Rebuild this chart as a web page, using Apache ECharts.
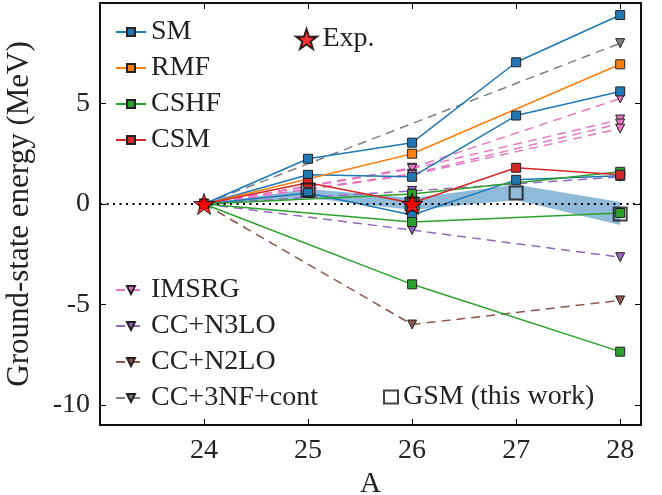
<!DOCTYPE html>
<html><head><meta charset="utf-8">
<script src="https://cdn.jsdelivr.net/npm/echarts@6/dist/echarts.min.js"></script>
<style>html,body{margin:0;padding:0;background:#fff}#c{width:662px;height:495px}</style>
</head><body><div id="c"></div>
<script>
// ---- data ----
const A = [24, 25, 26, 27, 28];
const xTicks = [24, 25, 26, 27, 28];
const yTicks = [-10, -5, 0, 5];
const sm1 = [0, 2.25, 3.05, 7.05, 9.4];
const sm2 = [0, 1.45, 1.35, 4.4, 5.6];
const sm3 = [0, 0.55, -0.55, 1.2, 1.4];
const rmf = [0, null, 2.5, null, 6.95];
const cshf1 = [0, null, 0.5, null, 1.6];
const cshf2 = [0, null, -0.9, null, -0.45];
const cshf3 = [0, null, -4.0, null, -7.35];
const csm = [0, 1.05, 0.05, 1.8, 1.45];
const imsrg1 = [0, null, 1.8, null, 5.25];
const imsrg2 = [0, null, 1.75, null, 4.2];
const imsrg3 = [0, null, 1.5, null, 4.0];
const imsrg4 = [0, null, 1.45, null, 3.75];
const ccn3lo1 = [0, null, 0.65, null, 1.35];
const ccn3lo2 = [0, null, -1.3, null, -2.65];
const ccn2lo = [0, null, -6.0, null, -4.8];
const cc3nf = [0, null, null, null, 8.0];
const expE = [0, null, 0, null, null];
const gsm = [null, 0.7, 0.0, 0.55, -0.5];
const bandLow = [0, 0.3, -0.3, 0.2, -1.05];
const bandHigh = [0, 0.75, 0.3, 0.95, 0.1];

// ---- helpers ----
function pts(v) { const r = []; v.forEach((y, i) => { if (y !== null) r.push([A[i], y]); }); return r; }
const FONT = 'Liberation Serif';
const STAR = 'path://M50,0 L61.8,35.1 L97.6,34.5 L69,56 L79.4,90.5 L50,70 L20.6,90.5 L31,56 L2.4,34.5 L38.2,35.1 Z';
const C = {SM:'#1f77b4', RMF:'#ff7f0e', CSHF:'#2ca02c', CSM:'#d62728', IMSRG:'#e377c2', N3:'#9467bd', N2:'#8c564b', G:'#7f7f7f'};

function solid(name, color, v) {
  return {type:'line', name, data: pts(v), z: 4,
    lineStyle:{color, width:1.5}, itemStyle:{color, borderColor:'#222', borderWidth:1},
    symbol:'rect', symbolSize:9, showSymbol:true};
}
function dashed(name, color, v) {
  return {type:'line', name, data: pts(v), z: 3,
    lineStyle:{color, width:1.5, type:[9,6]}, itemStyle:{color, borderColor:'#222', borderWidth:1},
    symbol:'triangle', symbolRotate:180, symbolSize:9, showSymbol:true};
}

const bandData = A.map((x, i) => [x, bandLow[i], bandHigh[i]]);

const series = [
  {type:'custom', name:'band', data: bandData, z:1, silent:true,
   encode:{x:0, y:[1,2]},
   renderItem: function (params, api) {
     if (params.dataIndex !== 0) return null;
     const upper = bandData.map(d => api.coord([d[0], d[2]]));
     const lower = bandData.map(d => api.coord([d[0], d[1]])).reverse();
     return {type:'polygon', shape:{points: upper.concat(lower)},
             style:{fill:'rgba(31,119,180,0.5)', stroke:'none'}};
   },
   markLine:{silent:true, symbol:'none', label:{show:false}, lineStyle:{color:'#000', width:2, type:[2,4.5]}, data:[{yAxis:0}]}},
  solid('SM', C.SM, sm1), solid('SM', C.SM, sm2), solid('SM', C.SM, sm3),
  solid('RMF', C.RMF, rmf),
  solid('CSHF', C.CSHF, cshf1), solid('CSHF', C.CSHF, cshf2), solid('CSHF', C.CSHF, cshf3),
  solid('CSM', C.CSM, csm),
  dashed('IMSRG', C.IMSRG, imsrg1), dashed('IMSRG', C.IMSRG, imsrg2), dashed('IMSRG', C.IMSRG, imsrg3), dashed('IMSRG', C.IMSRG, imsrg4),
  dashed('CC+N3LO', C.N3, ccn3lo1), dashed('CC+N3LO', C.N3, ccn3lo2),
  dashed('CC+N2LO', C.N2, ccn2lo),
  dashed('CC+3NF+cont', C.G, cc3nf),
  {type:'scatter', name:'GSM (this work)', data: pts(gsm), symbol:'rect', symbolSize:13, z:8,
   itemStyle:{color:'rgba(255,255,255,0)', borderColor:'#111', borderWidth:2}},
  {type:'scatter', name:'Exp.', data: pts(expE), symbol:STAR, symbolSize:21, z:10,
   itemStyle:{color:'#ff0000', borderColor:'#000', borderWidth:1}}
];

const legendText = {fontFamily:FONT, fontSize:28, color:'#222'};
const chart = echarts.init(document.getElementById('c'), null, {renderer:'canvas'});
chart.setOption({
  animation:false,
  backgroundColor:'#fff',
  grid:{left:100, right:21, top:3, bottom:70, outerBoundsMode:'none', containLabel:false,
        show:true, borderColor:'#000', borderWidth:1.5, backgroundColor:'transparent'},
  legend:[
    {data:['SM','RMF','CSHF','CSM'], orient:'vertical', left:110, top:13, itemGap:8, itemWidth:30, itemHeight:10, textStyle:legendText, selectedMode:false},
    {data:['Exp.'], left:290, top:20, itemWidth:22, itemHeight:20, itemGap:4, textStyle:legendText, selectedMode:false},
    {data:['IMSRG','CC+N3LO','CC+N2LO','CC+3NF+cont'], orient:'vertical', left:110, top:271, itemGap:8, itemWidth:30, itemHeight:10, textStyle:legendText, selectedMode:false},
    {data:['GSM (this work)'], left:378, top:378, itemWidth:14, itemHeight:13, textStyle:legendText, selectedMode:false}
  ],
  xAxis:[
    {type:'value', min:23, max:28.2, interval:1, position:'bottom',
     name:'A', nameLocation:'middle', nameGap:36, nameTextStyle:{fontFamily:FONT, fontSize:29, color:'#222'},
     axisLine:{show:true, onZero:false, lineStyle:{color:'#000', width:1.5}},
     axisTick:{show:true, inside:true, length:6, customValues:xTicks, lineStyle:{color:'#000', width:1}},
     axisLabel:{customValues:xTicks, fontFamily:FONT, fontSize:28, color:'#222', margin:12},
     splitLine:{show:false}},
    {type:'value', min:23, max:28.2, interval:1, position:'top',
     axisLine:{show:true, onZero:false, lineStyle:{color:'#000', width:1.5}},
     axisTick:{show:true, inside:true, length:6, customValues:xTicks, lineStyle:{color:'#000', width:1}},
     axisLabel:{show:false}, splitLine:{show:false}}
  ],
  yAxis:[
    {type:'value', min:-11, max:10, interval:5, position:'left',
     name:'Ground-state energy (MeV)', nameLocation:'middle', nameGap:65, nameTextStyle:{fontFamily:FONT, fontSize:31, color:'#222'},
     axisLine:{show:true, onZero:false, lineStyle:{color:'#000', width:1.5}},
     axisTick:{show:true, inside:true, length:6, customValues:yTicks, lineStyle:{color:'#000', width:1}},
     axisLabel:{customValues:yTicks, fontFamily:FONT, fontSize:28, color:'#222', margin:10},
     splitLine:{show:false}},
    {type:'value', min:-11, max:10, interval:5, position:'right',
     axisLine:{show:true, onZero:false, lineStyle:{color:'#000', width:1.5}},
     axisTick:{show:true, inside:true, length:6, customValues:yTicks, lineStyle:{color:'#000', width:1}},
     axisLabel:{show:false}, splitLine:{show:false}}
  ],
  series
});
</script></body></html>
